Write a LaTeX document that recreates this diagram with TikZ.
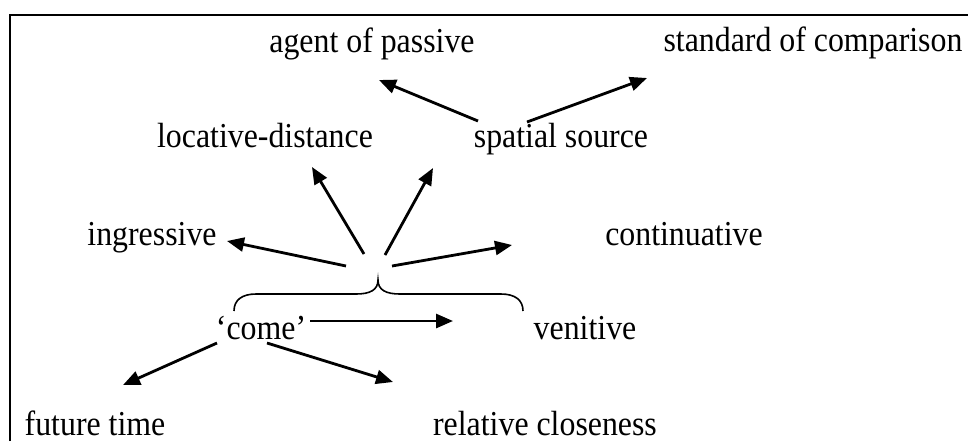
\documentclass[tikz,border=0pt]{standalone}
\usepackage{fontspec}
\setmainfont{Liberation Serif}[FakeStretch=0.91]
\usetikzlibrary{arrows.meta}
\begin{document}
\begin{tikzpicture}[x=0.5pt,y=-0.5pt,
  lbl/.style={anchor=base,inner sep=0pt,font=\fontsize{17.5}{21}\selectfont},
  arr/.style={line width=1.4pt,-{Triangle[length=8.5pt,width=7pt]}},
  frame/.style={line width=1.4pt},
  bracestyle/.style={line width=0.8pt}]
\useasboundingbox (0,0) rectangle (968,441);
% frame
\draw[frame] (10,441) -- (10,15) -- (968,15);
% labels
\node[lbl] (agent) at (372,52) {agent of passive};
\node[lbl] (standard) at (813,51) {standard of comparison};
\node[lbl] (locative) at (265,147) {locative-distance};
\node[lbl] (spatial) at (561,147) {spatial source};
\node[lbl] (ingressive) at (152,245) {ingressive};
\node[lbl] (continuative) at (684,245) {continuative};
\node[lbl] (come) at (261,339) {`come'};
\node[lbl] (venitive) at (585,339) {venitive};
\node[lbl] (future) at (95,435) {future time};
\node[lbl] (relative) at (545,435) {relative closeness};
% arrow end points
\coordinate (sA) at (478,121); \coordinate (tA) at (379,80);
\coordinate (sS) at (527,122); \coordinate (tS) at (647,78);
\coordinate (sL) at (364,254); \coordinate (tL) at (312,167);
\coordinate (sP) at (385,255); \coordinate (tP) at (433,168);
\coordinate (sI) at (346,266); \coordinate (tI) at (227,241);
\coordinate (sC) at (392,266); \coordinate (tC) at (512,245);
\coordinate (sV) at (310,321); \coordinate (tV) at (453,321);
\coordinate (sF) at (217,343); \coordinate (tF) at (123,385);
\coordinate (sR) at (267,343); \coordinate (tR) at (393,382);
\draw[arr] (sA) -- (tA);
\draw[arr] (sS) -- (tS);
\draw[arr] (sL) -- (tL);
\draw[arr] (sP) -- (tP);
\draw[arr] (sI) -- (tI);
\draw[arr] (sC) -- (tC);
\draw[arr] (sV) -- (tV);
\draw[arr] (sF) -- (tF);
\draw[arr] (sR) -- (tR);
% brace
\coordinate (bL) at (234,311);
\coordinate (bM) at (378,280);
\coordinate (bR) at (523,311);
\draw[bracestyle] (bL) .. controls (234,300) and (242,294) .. (256,294) -- (356,294)
  .. controls (370,294) and (378,290) .. (bM)
  .. controls (378,290) and (386,294) .. (400,294) -- (501,294)
  .. controls (515,294) and (523,300) .. (bR);
\end{tikzpicture}
\end{document}
